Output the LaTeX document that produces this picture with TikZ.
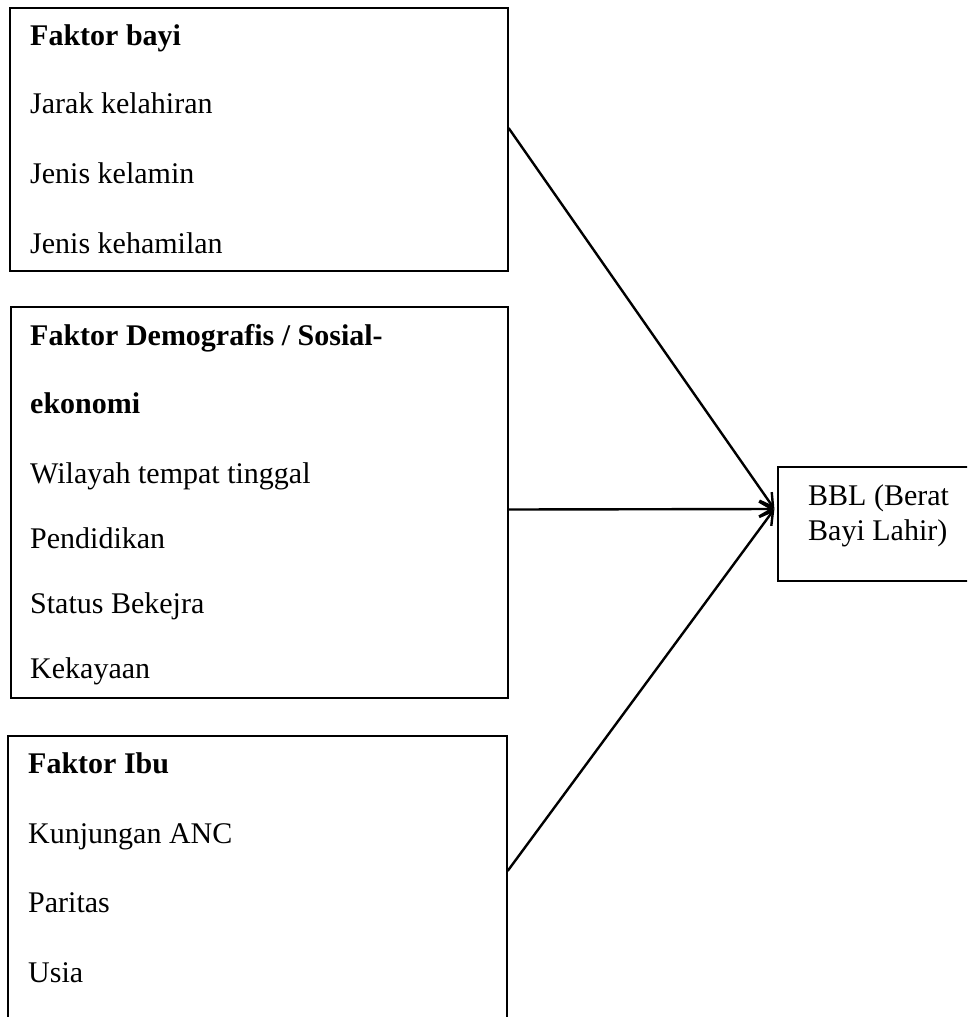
\documentclass[tikz,border=0pt]{standalone}
\usepackage{fontspec}
\setmainfont{Liberation Serif}
\usetikzlibrary{arrows.meta,calc}
\tikzset{
  box/.style={draw=black, line width=1.2pt, inner sep=0pt, fill=none},
  txt/.style={anchor=base west, inner sep=0pt, font=\fontsize{30}{36}\selectfont},
  head/.style={txt, font=\fontsize{30}{36}\selectfont\bfseries},
  conn/.style={line width=2.4pt, -{Straight Barb[length=13pt,width=15pt]}}
}
\begin{document}
\begin{tikzpicture}[x=1pt,y=-1pt]
\clip (0,0) rectangle (967,1017);
\fill[white] (0,0) rectangle (967,1017);
% boxes
\node[box, minimum width=498pt, minimum height=263pt] (b1) at (259,139.5) {};
\node[box, minimum width=497pt, minimum height=391pt] (b2) at (259.5,502.5) {};
\node[box, minimum width=499pt, minimum height=304pt] (b3) at (257.5,888) {};
\node[box, minimum width=222pt, minimum height=114pt] (bbl) at (889,524) {};
% texts box 1
\node[head] (t11) at (30,45) {Faktor bayi};
\node[txt] (t12) at (30,113) {Jarak kelahiran};
\node[txt] (t13) at (30,183) {Jenis kelamin};
\node[txt] (t14) at (30,253) {Jenis kehamilan};
% texts box 2
\node[head] (t21) at (30,345) {Faktor Demografis / Sosial-};
\node[head] (t22) at (30,413) {ekonomi};
\node[txt] (t23) at (30,483) {Wilayah tempat tinggal};
\node[txt] (t24) at (30,548) {Pendidikan};
\node[txt] (t25) at (30,613) {Status Bekejra};
\node[txt] (t26) at (30,678) {Kekayaan};
% texts box 3
\node[head] (t31) at (28,773) {Faktor Ibu};
\node[txt] (t32) at (28,843) {Kunjungan ANC};
\node[txt] (t33) at (28,912) {Paritas};
\node[txt] (t34) at (28,982) {Usia};
% BBL
\node[txt] (tb1) at (808,505) {BBL (Berat};
\node[txt] (tb2) at (808,540) {Bayi Lahir)};
% connectors
\coordinate (tip) at ([xshift=-3pt,yshift=15pt]bbl.west);
\draw[conn] ([yshift=11.5pt]b1.east) -- (tip);
\draw[conn] ([yshift=-7pt]b2.east) -- (tip);
\draw[conn] ([yshift=17pt]b3.east) -- (tip);
\end{tikzpicture}
\end{document}
